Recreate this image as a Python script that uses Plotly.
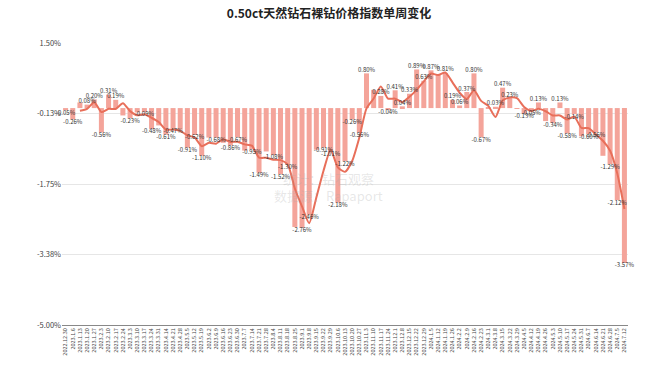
import plotly.graph_objects as go

dates = ["2022.12.30","2023.1.6","2023.1.13","2023.1.20","2023.1.27","2023.2.3","2023.2.10","2023.2.17","2023.2.24","2023.3.3",
         "2023.3.10","2023.3.17","2023.3.24","2023.3.31","2023.4.14","2023.4.21","2023.4.28","2023.5.5","2023.5.12","2023.5.19",
         "2023.6.2","2023.6.9","2023.6.16","2023.6.23","2023.6.30","2023.7.7","2023.7.14","2023.7.21","2023.7.28","2023.8.4",
         "2023.8.11","2023.8.18","2023.8.25","2023.9.1","2023.9.8","2023.9.15","2023.9.22","2023.9.29","2023.10.6","2023.10.13",
         "2023.10.20","2023.10.27","2023.11.3","2023.11.10","2023.11.17","2023.11.24","2023.12.1","2023.12.8","2023.12.15","2023.12.22",
         "2023.12.29","2024.1.5","2024.1.12","2024.1.19","2024.1.26","2024.2.2","2024.2.9","2024.2.16","2024.2.23","2024.3.1",
         "2024.3.8","2024.3.15","2024.3.22","2024.3.29","2024.4.5","2024.4.12","2024.4.19","2024.4.26","2024.5.3","2024.5.10",
         "2024.5.17","2024.5.24","2024.5.31","2024.6.7","2024.6.14","2024.6.21","2024.6.28","2024.7.5","2024.7.12"]

weekly_change = [-0.05,-0.26,0.13,0.08,0.20,-0.56,0.31,0.19,-0.17,-0.23,
                 -0.10,-0.09,-0.48,-0.40,-0.61,-0.47,-0.50,-0.91,-0.62,-1.10,
                 -0.68,-0.68,-0.80,-0.86,-0.67,-0.98,-0.95,-1.49,-1.00,-1.08,
                 -1.52,-1.30,-2.74,-2.76,-2.46,-0.96,-0.91,-1.01,-2.18,-1.22,
                 -0.26,-0.56,0.80,0.42,0.28,-0.04,0.41,0.04,0.33,0.89,
                 0.63,0.87,0.78,0.81,0.19,0.06,0.37,0.80,-0.67,0.02,
                 0.03,0.47,0.23,-0.02,-0.13,-0.05,0.13,-0.30,-0.34,0.13,
                 -0.58,-0.14,-0.65,-0.60,-0.56,-1.10,-1.29,-2.12,-3.57]

trend_line = [None,None,-0.06,-0.017,0.137,-0.093,-0.017,-0.02,0.11,-0.07,
              -0.167,-0.14,-0.223,-0.323,-0.497,-0.493,-0.527,-0.627,-0.677,-0.877,
              -0.80,-0.82,-0.72,-0.78,-0.777,-0.837,-0.867,-1.14,-1.147,-1.19,
              -1.20,-1.30,-1.853,-2.267,-2.653,-2.06,-1.443,-0.96,-1.367,-1.47,
              -1.22,-0.68,-0.007,0.22,0.50,0.22,0.217,0.137,0.26,0.42,
              0.617,0.797,0.76,0.82,0.593,0.353,0.207,0.41,0.167,0.05,
              -0.207,0.173,0.243,0.227,0.027,-0.067,-0.017,-0.073,-0.17,-0.17,
              -0.263,-0.197,-0.457,-0.463,-0.603,-0.753,-0.983,-1.503,-2.327]

y_tick_vals = [1.5, -0.125, -1.75, -3.375, -5.0]
y_tick_text = ["1.50%", "-0.13%", "-1.75%", "-3.38%", "-5.00%"]

# labels hidden in the original (overlapping)
hidden = {2, 8, 10, 13, 16, 20, 22, 25, 28, 32, 35, 43, 52, 59, 63, 67, 72, 75}
bar_text = ["" if i in hidden else f"{v:.2f}%" for i, v in enumerate(weekly_change)]
text_pos = ["top center" if v >= 0 else "bottom center" for v in weekly_change]

FONT = "Noto Sans CJK SC, Noto Sans, sans-serif"

fig = go.Figure()
fig.add_trace(go.Bar(
    x=dates, y=weekly_change,
    marker=dict(color="#F4A49A", line=dict(width=0)),
    hoverinfo="x+y",
))
fig.add_trace(go.Scatter(
    x=dates, y=trend_line, mode="lines",
    line=dict(color="#E86F5A", width=2, shape="spline", smoothing=0.6),
    connectgaps=False, hoverinfo="skip",
))
fig.add_trace(go.Scatter(
    x=dates, y=weekly_change, mode="text",
    text=bar_text, textposition=text_pos, cliponaxis=False,
    textfont=dict(size=6, color="#333333", family=FONT),
    hoverinfo="skip",
))

fig.add_annotation(text="统计：钻石观察", x=0.47, y=0.52, xref="paper", yref="paper",
                   showarrow=False, font=dict(size=13, color="rgba(170,170,170,0.28)", family=FONT))
fig.add_annotation(text="数据源：Rapaport", x=0.47, y=0.46, xref="paper", yref="paper",
                   showarrow=False, font=dict(size=13, color="rgba(170,170,170,0.28)", family=FONT))

fig.update_layout(
    width=658, height=373,
    margin=dict(l=62, r=30, t=43, b=48),
    paper_bgcolor="white", plot_bgcolor="white",
    showlegend=False,
    bargap=0.3,
    title=dict(text="<b>0.50ct天然钻石裸钻价格指数单周变化</b>", x=0.5, xanchor="center",
               y=0.963, yanchor="middle", font=dict(size=12, color="#222222", family=FONT)),
    font=dict(family=FONT),
)
fig.update_xaxes(
    type="category", tickmode="array", tickvals=dates, ticktext=dates,
    range=[-0.5, len(dates) - 0.5], autorange=False,
    tickangle=-90, tickfont=dict(size=5.5, color="#444444", family=FONT),
    showgrid=False, showline=True, linecolor="#888888", linewidth=1, ticks="",
    automargin=False,
)
fig.update_yaxes(
    range=[-5.0, 1.5], tickvals=y_tick_vals, ticktext=y_tick_text,
    tickfont=dict(size=7.5, color="#444444", family=FONT),
    showgrid=True, gridcolor="#E6E6E6", gridwidth=1, zeroline=False,
    showline=False, ticks="", automargin=False,
)

fig.write_html("out.html", config={"displayModeBar": False},
               post_script="document.body.style.margin='0';document.body.style.padding='0';")
